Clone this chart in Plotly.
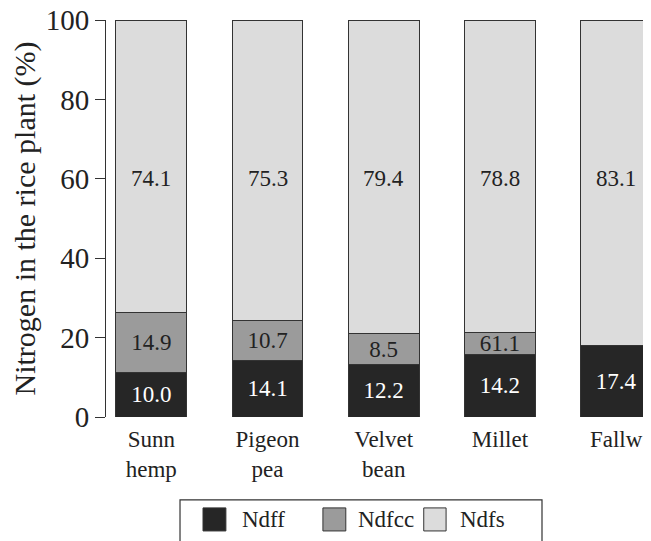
import plotly.graph_objects as go

categories = ["Sunn<br>hemp", "Pigeon<br>pea", "Velvet<br>bean", "Millet", "Fallw"]
ndff = [11.1, 14.2, 13.1, 15.7, 18.0]
ndfcc = [15.1, 10.2, 8.0, 5.6, 0.0]
ndfs = [73.8, 75.6, 78.9, 78.7, 82.0]
ndff_labels = ["10.0", "14.1", "12.2", "14.2", "17.4"]
ndfcc_labels = ["14.9", "10.7", "8.5", "61.1", ""]
ndfs_labels = ["74.1", "75.3", "79.4", "78.8", "83.1"]
series_names = ["Ndff", "Ndfcc", "Ndfs"]
y_ticks = [0, 20, 40, 60, 80, 100]

colors = ["#262626", "#9b9b9b", "#dcdcdc"]
edge = "#333333"
FONT = "Liberation Serif"
FS = 23
FSY = 29
TXT = "#222222"

fig = go.Figure()
fig.add_trace(go.Bar(
    x=categories, y=ndff, name=series_names[0], text=ndff_labels,
    textposition="inside", insidetextanchor="middle", constraintext="none",
    textfont=dict(family=FONT, size=FS, color="white"),
    marker=dict(color=colors[0], line=dict(color=edge, width=1)),
    showlegend=False))
fig.add_trace(go.Bar(
    x=categories, y=ndfcc, name=series_names[1], text=ndfcc_labels,
    textposition="inside", insidetextanchor="middle", constraintext="none",
    textfont=dict(family=FONT, size=FS, color=TXT),
    marker=dict(color=colors[1], line=dict(color=edge, width=1)),
    showlegend=False))
fig.add_trace(go.Bar(
    x=categories, y=ndfs, name=series_names[2],
    marker=dict(color=colors[2], line=dict(color=edge, width=1)),
    showlegend=False))

for c, t in zip(categories, ndfs_labels):
    fig.add_annotation(x=c, y=60, text=t, showarrow=False,
                       font=dict(family=FONT, size=FS, color=TXT))

# legend (drawn in paper coordinates)
fig.add_shape(type="rect", xref="paper", yref="paper",
              x0=0.1358, x1=0.800, y0=-0.209, y1=-0.32,
              line=dict(color="#333333", width=1.2), fillcolor="white")
sq_x = [(0.178, 0.220), (0.398, 0.440), (0.583, 0.624)]
txt_x = [0.246, 0.459, 0.646]
for (a, b), tx, col, nm in zip(sq_x, txt_x, colors, series_names):
    fig.add_shape(type="rect", xref="paper", yref="paper",
                  x0=a, x1=b, y0=-0.229, y1=-0.287,
                  line=dict(color="#333333", width=1), fillcolor=col)
    fig.add_annotation(xref="paper", yref="paper", x=tx, y=-0.258,
                       xanchor="left", yanchor="middle", text=nm, showarrow=False,
                       font=dict(family=FONT, size=FS, color=TXT))

fig.update_layout(
    barmode="stack", bargap=0.39,
    width=643, height=533,
    margin=dict(l=98, r=0, t=12, b=124),
    paper_bgcolor="white", plot_bgcolor="white",
    font=dict(family=FONT, size=FS, color=TXT),
    xaxis=dict(range=[-0.39, 4.30], showline=False, showgrid=False, zeroline=False,
               ticks="", ticklabelstandoff=6, automargin=False,
               tickfont=dict(family=FONT, size=FS, color=TXT)),
    yaxis=dict(range=[0, 100], tickvals=y_ticks, showline=True, linecolor="#333333",
               linewidth=1, ticks="outside", ticklen=10, tickcolor="#333333",
               showgrid=False, zeroline=False, ticklabeloverflow="allow",
               automargin=False,
               tickfont=dict(family=FONT, size=FSY, color=TXT),
               title=dict(text="Nitrogen in the rice plant (%)", standoff=4,
                          font=dict(family=FONT, size=30, color=TXT))),
)

fig.write_html("out.html")
